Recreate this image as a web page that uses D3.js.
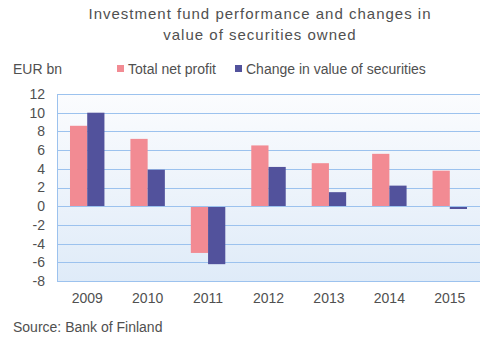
<!DOCTYPE html>
<html>
<head>
<meta charset="utf-8">
<script src="https://cdn.jsdelivr.net/npm/d3@7"></script>
<style>
  body { margin: 0; background: #fff; }
  text { font-family: "Liberation Sans", Arial, sans-serif; fill: #505050; }
</style>
</head>
<body>
<svg id="chart" width="498" height="338"></svg>
<script>
const years = ["2009", "2010", "2011", "2012", "2013", "2014", "2015"];
const netProfit = [8.6, 7.2, -5.0, 6.5, 4.6, 5.6, 3.8];
const valueChange = [10.0, 3.9, -6.2, 4.2, 1.5, 2.2, -0.3];
const seriesNames = ["Total net profit", "Change in value of securities"];
const colors = ["#f28b93", "#52529c"];
const yTicks = [-8, -6, -4, -2, 0, 2, 4, 6, 8, 10, 12];

const margin = {top: 94, right: 18, bottom: 57, left: 57},
  width = 498 - margin.left - margin.right,
  height = 338 - margin.top - margin.bottom;

const svg = d3.select("#chart");

// background gradient
const defs = svg.append("defs");
const grad = defs.append("linearGradient")
  .attr("id", "bg").attr("x1", 0).attr("y1", 0).attr("x2", 0).attr("y2", 1);
grad.append("stop").attr("offset", "0%").attr("stop-color", "#fbfcfe");
grad.append("stop").attr("offset", "100%").attr("stop-color", "#dfebf8");

// title
const title = svg.append("text")
  .attr("text-anchor", "middle")
  .style("font-size", "15px")
  .style("letter-spacing", "1px");
title.append("tspan").attr("x", 260).attr("y", 19).text("Investment fund performance and changes in");
title.append("tspan").attr("x", 260).attr("y", 40).text("value of securities owned");

// unit label
svg.append("text").attr("x", 13).attr("y", 74)
  .style("font-size", "14px").text("EUR bn");

// legend
const legendX = [117, 235];
seriesNames.forEach((name, i) => {
  svg.append("rect").attr("x", legendX[i]).attr("y", 65)
    .attr("width", 7).attr("height", 7).attr("fill", colors[i]);
  svg.append("text").attr("x", legendX[i] + 11).attr("y", 74)
    .style("font-size", "14px").text(name);
});

const g = svg.append("g")
  .attr("transform", "translate(" + margin.left + "," + margin.top + ")");

const x = d3.scaleBand().domain(years).range([0, width]).paddingInner(0.43).paddingOuter(0.215);
const x1 = d3.scaleBand().domain([0, 1]).range([0, x.bandwidth()]);
const y = d3.scaleLinear().domain([-8, 12]).range([height, 0]);

g.append("rect").attr("width", width).attr("height", height).attr("fill", "url(#bg)");

// gridlines
g.selectAll(".grid").data(yTicks).enter().append("line")
  .attr("x1", 0).attr("x2", width)
  .attr("y1", d => Math.round(y(d)) + 0.5).attr("y2", d => Math.round(y(d)) + 0.5)
  .attr("stroke", "#9cc2ee").attr("stroke-width", 1);

// bars
const data = years.map((yr, i) => ({year: yr, values: [netProfit[i], valueChange[i]]}));
const groups = g.selectAll(".grp").data(data).enter().append("g")
  .attr("transform", d => "translate(" + x(d.year) + ",0)");
groups.selectAll("rect").data(d => d.values).enter().append("rect")
  .attr("x", (d, i) => x1(i))
  .attr("width", x1.bandwidth())
  .attr("y", d => y(Math.max(0, d)))
  .attr("height", d => Math.abs(y(d) - y(0)))
  .attr("fill", (d, i) => colors[i]);

// zero line on top
g.append("line").attr("x1", 0).attr("x2", width)
  .attr("y1", Math.round(y(0)) + 0.5).attr("y2", Math.round(y(0)) + 0.5)
  .attr("stroke", "#9cc2ee");

// left axis line
g.append("line").attr("x1", 0.5).attr("x2", 0.5).attr("y1", 0).attr("y2", height)
  .attr("stroke", "#9cc2ee");

// y axis labels
const yAxis = g.append("g").call(d3.axisLeft(y).tickValues(yTicks)
  .tickFormat(d => String(d)).tickSize(0).tickPadding(12));
yAxis.select(".domain").remove();
yAxis.selectAll("text").style("font-size", "14px").attr("fill", "#505050")
  .style("font-family", "Liberation Sans, Arial, sans-serif");

// x axis labels
const xAxis = g.append("g").attr("transform", "translate(0," + height + ")")
  .call(d3.axisBottom(x).tickSize(0).tickPadding(12));
xAxis.select(".domain").remove();
xAxis.selectAll("text").style("font-size", "14px").attr("fill", "#505050")
  .style("font-family", "Liberation Sans, Arial, sans-serif");

// source
svg.append("text").attr("x", 13).attr("y", 332)
  .style("font-size", "14px").text("Source: Bank of Finland");
</script>
</body>
</html>
